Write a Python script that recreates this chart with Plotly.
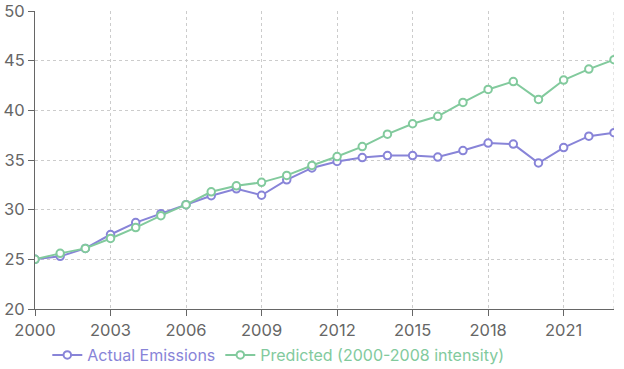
import plotly.graph_objects as go

years = list(range(2000, 2024))
actual = [25.0, 25.3, 26.1, 27.5, 28.7, 29.6, 30.5, 31.4, 32.1, 31.45, 33.0, 34.2,
          34.85, 35.25, 35.45, 35.45, 35.3, 35.95, 36.7, 36.6, 34.7, 36.25, 37.4, 37.75]
predicted = [25.0, 25.6, 26.1, 27.1, 28.2, 29.4, 30.5, 31.8, 32.4, 32.75, 33.45, 34.45,
             35.35, 36.35, 37.6, 38.65, 39.4, 40.8, 42.1, 42.9, 41.1, 43.05, 44.15, 45.1]
x_ticks = [2000, 2003, 2006, 2009, 2012, 2015, 2018, 2021]
y_ticks = [20, 25, 30, 35, 40, 45, 50]

c_act = "#8884d8"
c_pred = "#82ca9d"

fig = go.Figure()
fig.add_trace(go.Scatter(
    x=years, y=actual, mode="lines+markers",
    name=f"<span style='color:{c_act}'>Actual Emissions</span>",
    line=dict(color=c_act, width=2),
    marker=dict(size=7.5, color="white", line=dict(color=c_act, width=2)),
))
fig.add_trace(go.Scatter(
    x=years, y=predicted, mode="lines+markers",
    name=f"<span style='color:{c_pred}'>Predicted (2000-2008 intensity)</span>",
    line=dict(color=c_pred, width=2),
    marker=dict(size=7.5, color="white", line=dict(color=c_pred, width=2)),
))

fig.add_shape(type="line", xref="x", yref="y", x0=2023, x1=2023, y0=20, y1=50,
              line=dict(color="#cccccc", width=1, dash="3px,3px"), layer="below")

fig.update_layout(
    width=624, height=369,
    margin=dict(l=35, r=10, t=11, b=60, autoexpand=False),
    paper_bgcolor="white", plot_bgcolor="white",
    font=dict(family="Inter, sans-serif", size=16, color="#666666"),
    showlegend=True,
    legend=dict(orientation="h", xref="container", yref="container",
                x=0.446, xanchor="center", y=0.038, yanchor="middle",
                font=dict(size=16), itemwidth=30, tracegroupgap=0),
    xaxis=dict(range=[2000, 2023], tickmode="array", tickvals=x_ticks,
               showgrid=True, gridcolor="#cccccc", griddash="3px,3px", gridwidth=1,
               showline=True, linecolor="#666666", linewidth=1,
               ticks="outside", ticklen=6, tickcolor="#666666", automargin=False,
               zeroline=False, tickfont=dict(size=16.5, color="#666666")),
    yaxis=dict(range=[20, 50], tickmode="array", tickvals=y_ticks,
               showgrid=True, gridcolor="#cccccc", griddash="3px,3px", gridwidth=1,
               showline=True, linecolor="#666666", linewidth=1,
               ticks="outside", ticklen=6, tickcolor="#666666", automargin=False,
               zeroline=False, tickfont=dict(size=16.5, color="#666666")),
)

fig.write_html("out.html", config={"displayModeBar": False},
               post_script="document.body.style.margin='0';")
